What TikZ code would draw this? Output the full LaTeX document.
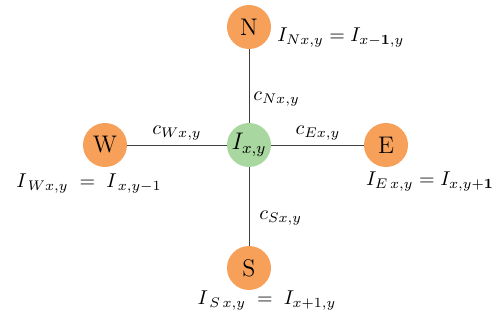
\documentclass[tikz,border=0pt]{standalone}
\begin{document}
\begin{tikzpicture}[x=0.5pt,y=-0.5pt,
  outer/.style={circle,fill=orangefill,minimum size=22pt,inner sep=0pt,font=\large},
  inner/.style={circle,fill=greenfill,minimum size=22pt,inner sep=0pt,font=\large},
  link/.style={draw=black!75,line width=0.4pt},
  lab/.style={inner sep=1pt}]
\definecolor{orangefill}{RGB}{246,160,90}
\definecolor{greenfill}{RGB}{168,216,160}
\useasboundingbox (0,0) rectangle (493,320);
\node[inner] (C) at (249,145) {$I_{x,y}$};
\node[outer] (N) at (249,27) {N};
\node[outer] (W) at (105,145) {W};
\node[outer] (E) at (386,145) {E};
\node[outer] (S) at (249,268) {S};
\draw[link] (C) -- (N);
\draw[link] (C) -- (W);
\draw[link] (C) -- (E);
\draw[link] (C) -- (S);
\node[anchor=west,inner sep=0pt] (cN) at (253,99) {$c_{Nx,y}$};
\node[inner sep=0pt] (cW) at (177,133) {$c_{Wx,y}$};
\node[inner sep=0pt] (cE) at (318,133) {$c_{Ex,y}$};
\node[anchor=west,inner sep=0pt] (cS) at (259,218) {$c_{Sx,y}$};
\node[lab,anchor=west] (lN) at (275,38) {$I_{Nx,y}=I_{x-\mathbf{1},y}$};
\node[lab] (lW) at (89,184) {$I_{\,Wx,y}\;=\;I_{\,x,y-1}$};
\node[lab] (lE) at (430,182) {$I_{E\,x,y}=I_{x,y+\mathbf{1}}$};
\node[lab] (lS) at (267,301) {$I_{\,S\,x,y}\;=\;I_{x+1,y}$};
\end{tikzpicture}
\end{document}
